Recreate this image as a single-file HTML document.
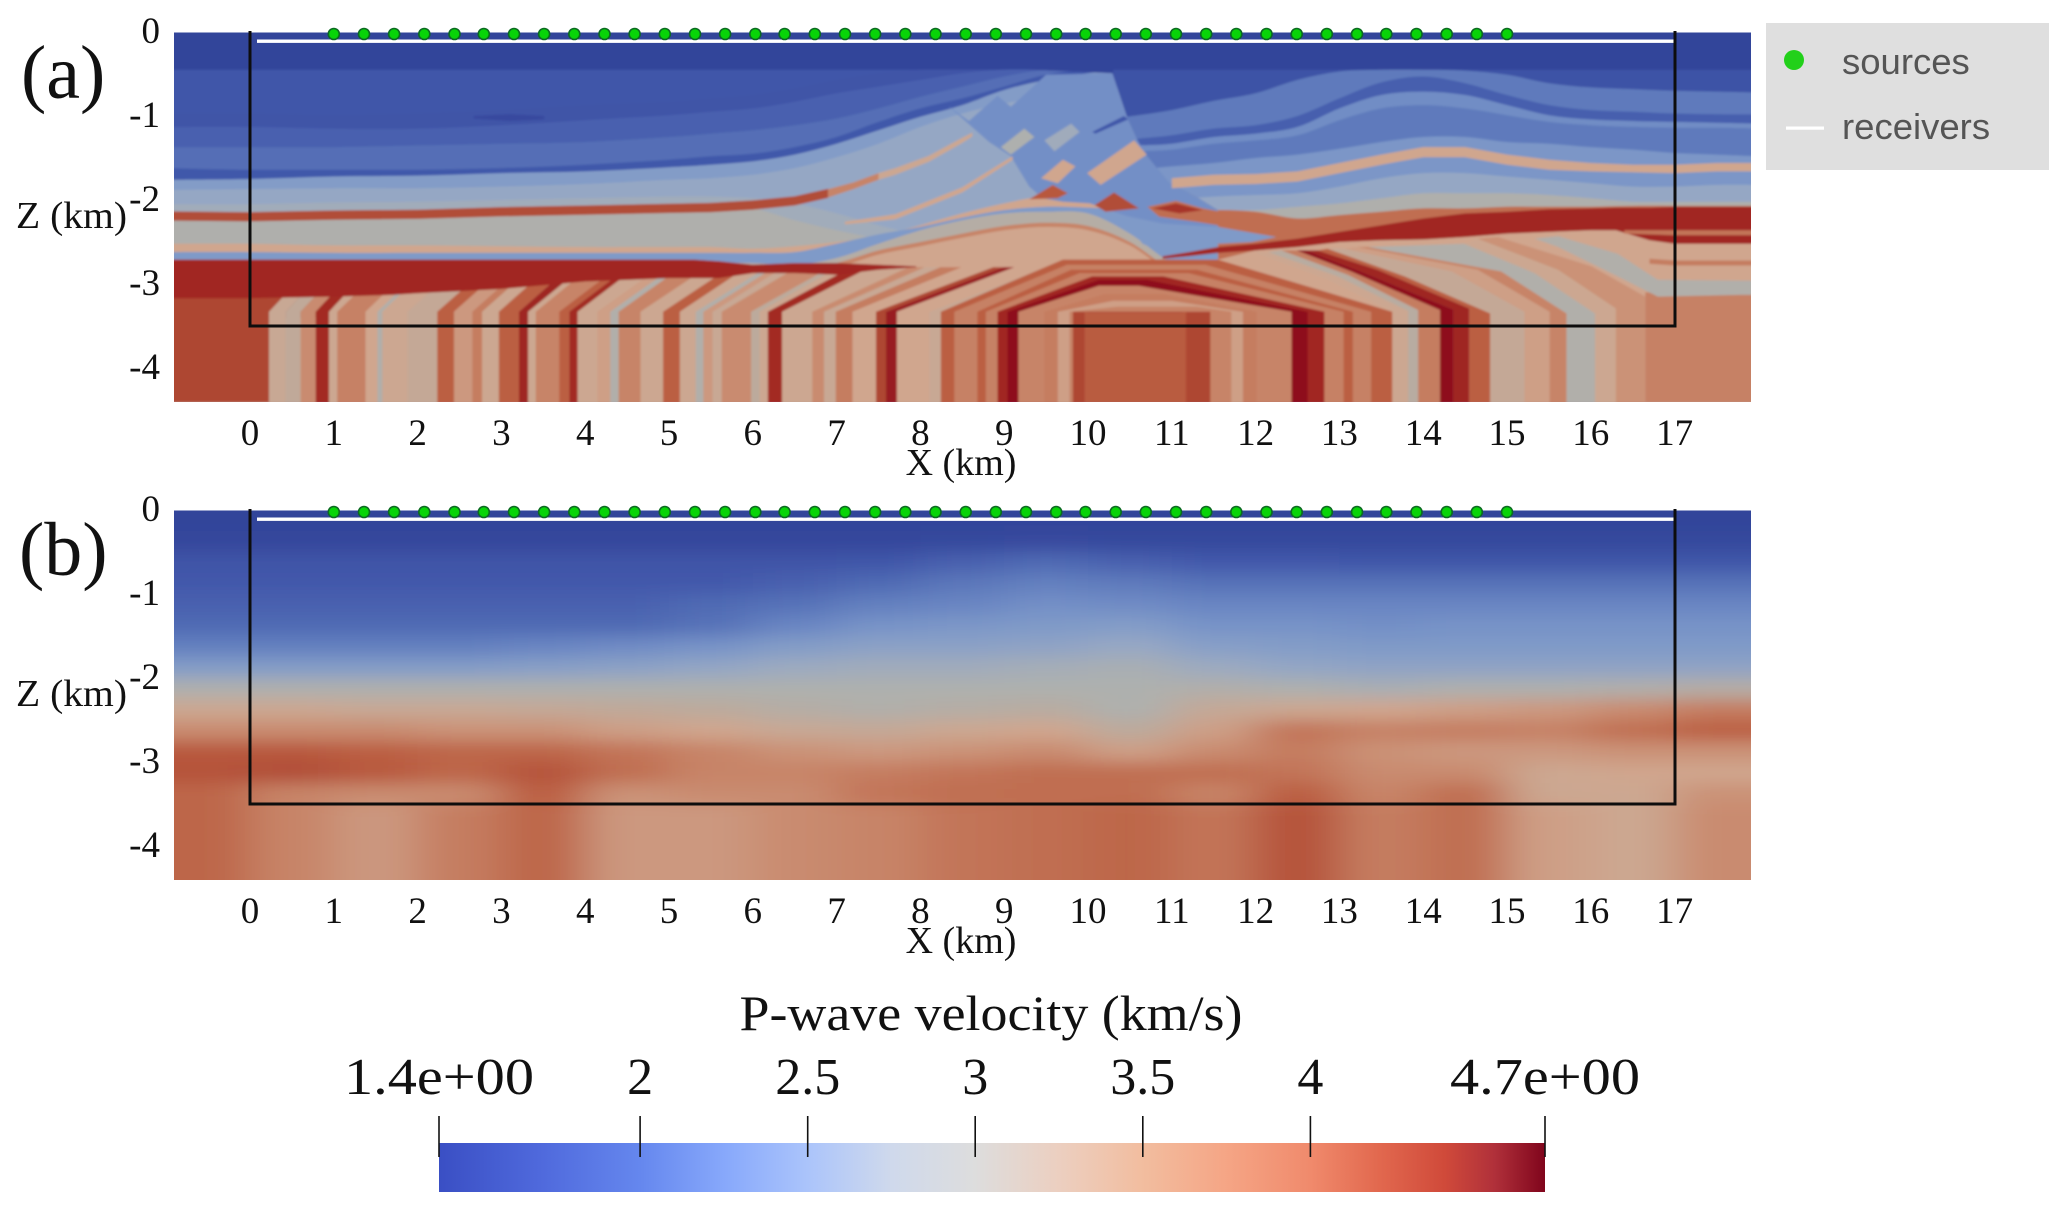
<!DOCTYPE html>
<html lang="en">
<head>
<meta charset="utf-8">
<title>P-wave velocity models</title>
<style>
html,body{margin:0;padding:0;background:#fff;}
svg{display:block;}
text{font-family:"Liberation Serif",serif;fill:#111;}
.sans{font-family:"Liberation Sans",sans-serif;fill:#555;}
</style>
</head>
<body>
<svg id="figure" xmlns="http://www.w3.org/2000/svg" width="2067" height="1210" viewBox="0 0 2067 1210">
  <defs>
    <clipPath id="clip-a"><rect x="174" y="32.5" width="1577" height="369.5"/></clipPath>
    <clipPath id="clip-b"><rect x="174" y="510.5" width="1577" height="369.5"/></clipPath>
    <clipPath id="clip-left"><polygon id="left-clip-shape" points="0,0"/></clipPath>
    <filter id="soft" x="-2%" y="-2%" width="104%" height="104%"><feGaussianBlur stdDeviation="1"/></filter>
    <filter id="smooth" filterUnits="userSpaceOnUse" x="-200" y="300" width="2500" height="800"><feGaussianBlur stdDeviation="24 8"/></filter>
    <linearGradient id="colorbar-gradient" x1="0" x2="1" y1="0" y2="0"></linearGradient>
  </defs>
  <g id="panel-a"></g>
  <g id="panel-b"></g>
  <text x="21" y="98" font-size="76">(a)</text>
  <text x="19" y="575" font-size="76">(b)</text>
  <g>
    <rect x="1766" y="23" width="283" height="147" fill="#dfdfdf"/>
    <circle cx="1794" cy="60" r="10" fill="#22d01a"/>
    <text class="sans" x="1842" y="74" font-size="36.5">sources</text>
    <rect x="1786" y="126.5" width="38" height="3.2" fill="#fff"/>
    <text class="sans" x="1842" y="139" font-size="36.5">receivers</text>
  </g>
  <g id="colorbar">
    <text x="991" y="1030" font-size="50" text-anchor="middle" textLength="503" lengthAdjust="spacingAndGlyphs">P-wave velocity (km/s)</text>
    <rect x="439" y="1143" width="1106" height="49" fill="url(#colorbar-gradient)"/>
  </g>
</svg>
<script>
/* ---------- axes ---------- */
const xTickValues = [0,1,2,3,4,5,6,7,8,9,10,11,12,13,14,15,16,17];
const zTickValues = [0,1,2,3,4];
const zTickLabels = ["0","-1","-2","-3","-4"];
const sourceXKm = [1.00,1.36,1.72,2.08,2.44,2.79,3.15,3.51,3.87,4.23,4.59,4.95,5.31,5.67,6.03,6.38,6.74,7.10,7.46,7.82,8.18,8.54,8.90,9.26,9.62,9.97,10.33,10.69,11.05,11.41,11.77,12.13,12.49,12.85,13.21,13.56,13.92,14.28,14.64,15.00];

/* ---------- colour scales ---------- */
const cmapVelocity = [1.4,1.75,1.9,2.1,2.25,2.45,2.75,3.0,3.2,3.45,3.7,3.95,4.15,4.4,4.7];
const cmapColor = ["#33449a","#3d52a5","#4259ab","#5e7abc","#6f8bc5","#7f9ac8","#97a8c4","#aeb0ae","#bcaa9c","#d0a68e","#c78468","#bb5f42","#ae4733","#a32a24","#8c0a1c"];
const colorbarVelocity = [1.4,1.7,2.0,2.25,2.5,2.75,3.0,3.25,3.5,3.75,4.0,4.2,4.4,4.55,4.7];
const colorbarColor = ["#3a4fc4","#4f69dc","#6587ee","#87a8fb","#abc4fb","#cfd9ec","#dddddd","#eccfc0","#f2bd9f","#f5a585","#f08a6c","#e2694f","#d04a3a","#b0303a","#80051c"];
const colorbarTickValues = [1.4,2,2.5,3,3.5,4,4.7];
const colorbarTickLabels = ["1.4e+00","2","2.5","3","3.5","4","4.7e+00"];

/* ---------- panel (a): left-side horizons, each filled down ---------- */
const leftStationKm = [-1,0,1,2,3,4,5,5.5,6,6.5,7,7.5,8,8.5,9,9.5,10,10.5,11,11.6];
const leftHorizonVelocity = [1.85,1.8,1.95,2.03,1.87,2.5,2.72,2.86,3.02,3.45,2.45,3.1,3.7,3.45];
const leftHorizonDepth = [
 [.45,.45,.45,.45,.45,.45,.45,.45,.45,.45,.45,.45,.45,.45,.45,.45,.45,.45,.45,.45],
 [.97,.97,.99,.97,.93,.87,.83,.79,.75,.67,.57,.49,.45,.45,.45,.45,.45,.45,.45,.45],
 [1.13,1.13,1.15,1.15,1.11,1.05,.99,.95,.91,.83,.73,.65,.57,.49,.45,.45,.45,.45,.45,.45],
 [1.37,1.37,1.37,1.35,1.33,1.31,1.25,1.21,1.17,1.11,1.03,.91,.77,.65,.53,.45,.45,.45,.45,.45],
 [1.62,1.64,1.64,1.64,1.62,1.58,1.52,1.48,1.45,1.37,1.25,1.07,.91,.79,.65,.51,.45,.45,.45,.45],
 [1.76,1.75,1.72,1.71,1.68,1.66,1.61,1.58,1.54,1.46,1.33,1.17,1.01,.87,.69,.57,.49,.45,.45,.45],
 [1.88,1.87,1.86,1.86,1.84,1.81,1.76,1.74,1.70,1.62,1.49,1.33,1.13,.97,.85,.77,.69,.65,.61,.6],
 [2.05,2.05,2.03,2.02,2.0,1.98,1.96,1.96,1.98,2.04,2.16,2.3,2.42,2.52,2.6,2.7,2.75,2.75,2.75,2.75],
 [2.18,2.18,2.16,2.15,2.12,2.10,2.08,2.08,2.10,2.24,2.36,2.46,2.54,2.60,2.67,2.75,2.75,2.75,2.75,2.75],
 [2.52,2.52,2.54,2.54,2.55,2.56,2.56,2.56,2.58,2.55,2.50,2.43,2.30,2.16,2.04,1.95,1.92,1.92,1.92,1.92],
 [2.62,2.62,2.63,2.63,2.63,2.63,2.63,2.63,2.63,2.62,2.52,2.41,2.32,2.21,2.12,2.08,2.09,2.12,2.20,2.3],
 [2.75,2.75,2.75,2.75,2.75,2.75,2.75,2.75,2.75,2.77,2.69,2.52,2.36,2.24,2.16,2.14,2.16,2.40,2.75,3.0],
 [2.85,2.85,2.85,2.85,2.85,2.85,2.85,2.85,2.85,2.82,2.75,2.60,2.50,2.40,2.31,2.27,2.31,2.50,2.83,3.05],
 [2.90,2.90,2.90,2.90,2.90,2.90,2.90,2.90,2.90,2.85,2.80,2.65,2.55,2.45,2.36,2.32,2.36,2.54,2.87,3.1]
];
const leftClipX = [-1,10.29,10.47,10.59,10.69,10.97,11.29,11.55,11.55,-1];
const leftClipDepth = [0,.49,1.03,1.29,1.46,1.80,1.96,2.12,4.5,4.5];

/* ---------- panel (a): right-side horizons, each filled down ---------- */
const rightStationKm = [10.3,10.6,11,11.5,12,12.5,13,13.5,14,14.5,15,15.5,16,16.5,17,17.5,18];
const rightHorizonVelocity = [1.78,2.1,1.93,2.28,2.1,2.4,2.72,3.02,3.85,3.45];
const rightHorizonDepth = [
 [.45,.45,.45,.45,.45,.45,.45,.45,.45,.45,.45,.45,.45,.45,.45,.45,.45],
 [1.03,.99,.93,.82,.73,.57,.47,.45,.45,.46,.51,.61,.66,.68,.70,.71,.72],
 [1.29,1.27,1.23,1.15,1.11,1.0,.79,.60,.53,.61,.75,.87,.93,.95,.97,.98,.98],
 [1.37,1.35,1.33,1.25,1.21,1.13,.91,.75,.71,.75,.87,.99,1.04,1.06,1.07,1.08,1.09],
 [1.44,1.42,1.40,1.33,1.29,1.23,1.05,.91,.87,.91,.99,1.07,1.11,1.13,1.14,1.14,1.15],
 [1.68,1.64,1.60,1.56,1.50,1.46,1.39,1.31,1.25,1.25,1.31,1.33,1.37,1.40,1.44,1.46,1.48],
 [2.12,2.08,2.0,1.96,1.94,1.92,1.84,1.74,1.68,1.68,1.72,1.76,1.80,1.84,1.84,1.82,1.82],
 [2.2,2.16,2.12,2.12,2.12,2.08,2.04,1.98,1.92,1.92,1.92,1.94,1.98,2.02,2.02,2.02,2.02],
 [2.28,2.24,2.16,2.12,2.14,2.22,2.18,2.14,2.10,2.10,2.08,2.08,2.08,2.07,2.07,2.07,2.07],
 [2.9,2.9,2.8,2.72,2.6,2.5,2.45,2.38,2.3,2.25,2.22,2.2,2.2,2.2,2.2,2.2,2.2]
];

/* ---------- panel (a): fault blocks and closed shapes ---------- */
const blockVelocity = [2.3,2.45,3.45,3.45,4.0,4.1,3.85,4.3,3.0,2.85,1.85,4.15,3.72];
const blockX = [
 [8.33,8.58,8.92,9.08,9.5,10.29,10.47,10.59,10.69,10.97,11.29,11.55,11.55,10.89,10.49,10.02,9.7,9.46,9.3,9.08,8.82],
 [10.41,10.89,11.55,12.25,11.95,11.55,10.91,10.65],
 [10.55,10.70,10.15,9.99],
 [9.70,9.85,9.64,9.44],
 [9.58,9.76,9.64,9.30],
 [10.31,10.61,10.21,10.08],
 [10.71,11.05,11.37,11.65,12.08,12.08,11.55,11.29,10.85],
 [10.77,11.05,11.37,11.09],
 [9.24,9.36,9.08,8.96],
 [9.48,9.80,9.90,9.60],
 [10.05,10.43,10.48,10.09],
 [-1,1,1,.3,.3,-1],
 [16.65,18,18,16.65]
];
const blockDepth = [
 [.88,1.06,.76,.89,.51,.49,1.03,1.29,1.46,1.80,1.96,2.12,2.36,2.36,2.2,2.04,2.02,1.98,1.84,1.48,1.31],
 [2.18,2.28,2.32,2.44,2.50,2.52,2.63,2.52],
 [1.29,1.46,1.82,1.68],
 [1.52,1.60,1.80,1.74],
 [1.82,1.92,1.98,1.99],
 [1.91,2.10,2.14,2.06],
 [2.08,2.01,2.10,2.15,2.22,2.32,2.30,2.26,2.20],
 [2.10,2.04,2.12,2.16],
 [1.15,1.25,1.46,1.37],
 [1.29,1.09,1.19,1.42],
 [1.19,1.0,1.04,1.21],
 [3.1,3.1,3.4,3.4,4.41,4.41],
 [3.1,3.1,4.41,4.41]
];

/* ---------- panel (a): folded vertical strata, left limb ---------- */
const foldEdgeKm = [0.227,0.425,0.605,0.784,0.943,1.042,1.38,1.52,1.58,1.88,2.235,2.434,2.653,2.77,2.97,3.21,3.32,3.41,3.69,3.81,3.91,4.145,4.30,4.40,4.66,4.93,5.13,5.32,5.41,5.52,5.63,5.98,6.08,6.18,6.35,6.71,6.85,6.99,7.19,7.47,7.59,7.72,8.11,8.245];
const foldRunKm = [.5,.5,.5,.5,.5,.55,.55,.55,.55,.6,.6,.6,.6,.6,.6,.6,.65,.65,.7,.7,.7,.75,.75,.75,.8,.8,.8,.85,.85,.85,.9,.95,.95,1.0,1.05,1.15,1.2,1.25,1.3,1.4,1.4,1.4,1.4,1.4];
const foldVelocity = [3.35,3.25,3.65,4.4,3.4,3.72,3.45,3.05,3.4,3.3,3.95,3.55,3.75,3.4,3.95,4.45,3.4,3.7,3.95,4.4,3.4,3.5,3.05,3.7,3.4,3.95,3.4,3.05,3.55,3.35,3.65,3.2,3.4,4.4,3.4,3.65,3.35,3.75,3.45,4.15,4.55,3.45,3.35];
const foldKneeDepth = [3.33];
const foldCrestDepth = [2.8];

/* ---------- panel (a): folded strata, right limb ---------- */
const fanEdgeKm = [13.63,13.82,13.94,14.2,14.36,14.55,14.8,15.21,15.51,15.71,16.05,16.30,16.65];
const fanKneeDepth = [3.33,3.32,3.31,3.31,3.30,3.29,3.35,3.33,3.33,3.35,3.35,3.29,3.15];
const fanMidKm = [12.86,12.98,13.1,13.14,13.26,13.46,13.78,14.34,14.65,14.93,15.33,15.61,16.01];
const fanMidDepth = [2.95,2.91,2.89,2.85,2.85,2.83,2.91,2.85,2.83,2.85,2.87,2.83,2.79];
const fanCrestKm = [12.0,12.15,12.31,12.49,12.61,12.74,12.86,13.06,13.22,13.34,14.49,14.65,14.89];
const fanCrestDepth = [2.63,2.62,2.6,2.6,2.6,2.6,2.58,2.58,2.56,2.56,2.52,2.46,2.44];
const fanVelocity = [3.4,3.15,3.75,4.68,4.45,3.95,3.3,3.5,3.7,3.05,3.4,3.6];

/* ---------- panel (a): anticline arches, outer to inner ---------- */
const archVelocity = [3.95,3.72,3.95,3.72,4.42,4.68,3.7,3.75,3.5,3.7,4.15,3.98];
const archLeftKm = [8.245,8.405,8.68,8.78,8.92,9.04,9.17,9.48,9.64,9.78,9.82,9.96];
const archRightKm = [13.63,13.38,13.16,13.05,12.82,12.62,12.43,12.01,11.85,11.71,11.46,11.17];
const archCrestLeftKm = [9.7,9.75,9.8,9.9,10.05,10.13,10.13,10.2,10.3,10.35,9.95,10.0];
const archCrestRightKm = [11.55,11.4,11.3,11.2,10.9,10.7,10.6,10.9,11.0,11.3,11.3,11.1];
const archCrestDepth = [2.71,2.77,2.83,2.87,2.91,2.95,3.02,3.12,3.2,3.27,3.33,3.34];
const archKneeDepth = [3.33];

/* ---------- panel (a): thin beds and thick layers ---------- */
const bandVelocity = [3.45,1.55,4.1,3.7,3.4,3.45,3.05,4.42,4.42,3.8,3.75];
const bandX = [
 [11,11.5,12,12.5,13,13.5,14,14.5,15,15.5,16,16.5,17,17.5,18],
 [2.67,3.1,3.51],
 [-1,0,1,2,3,4,5,5.5,6,6.5,6.9],
 [6.9,7.2,7.5],
 [7.5,7.7,8.1,8.5,8.62],
 [7.1,7.7,8.5,9.1],
 [15.33,15.61,16.32,16.8,17.78,18],
 [-1,0,1,1.7,2,3,4,5,5.3,5.6,6,6.5,7,7.5,7.95],
 [10.89,11.2,11.55,12,12.5,13,13.5,14,14.5,15,15.5,16,16.3,16.7,17,18],
 [16.4,17,18],
 [16.7,17,18]
];
const bandTop = [
 [1.74,1.70,1.69,1.66,1.56,1.46,1.37,1.37,1.46,1.52,1.56,1.58,1.58,1.56,1.56],
 [1.0,.98,1.0],
 [2.135,2.145,2.125,2.115,2.085,2.065,2.045,2.035,2.005,1.955,1.865],
 [1.87,1.79,1.68],
 [1.68,1.62,1.475,1.26,1.2],
 [2.26,2.17,1.85,1.48],
 [2.46,2.43,2.64,2.95,2.96,2.96],
 [2.71,2.71,2.71,2.71,2.71,2.71,2.71,2.71,2.71,2.73,2.77,2.75,2.75,2.77,2.79],
 [2.67,2.62,2.56,2.52,2.46,2.38,2.30,2.22,2.16,2.14,2.11,2.10,2.09,2.09,2.08,2.08],
 [2.36,2.36,2.36],
 [2.70,2.72,2.72]
];
const bandBottom = [
 [1.86,1.82,1.81,1.78,1.68,1.58,1.49,1.49,1.58,1.64,1.66,1.67,1.68,1.66,1.66],
 [1.03,1.06,1.04],
 [2.245,2.255,2.235,2.225,2.195,2.175,2.155,2.145,2.115,2.065,1.975],
 [1.97,1.87,1.76],
 [1.76,1.70,1.545,1.32,1.24],
 [2.29,2.23,1.91,1.52],
 [2.46,2.56,2.91,3.15,3.13,3.13],
 [3.17,3.17,3.15,3.13,3.11,3.06,2.97,2.93,2.93,2.93,2.87,2.87,2.89,2.83,2.80],
 [2.70,2.67,2.63,2.60,2.56,2.50,2.48,2.47,2.44,2.40,2.38,2.36,2.36,2.48,2.52,2.52],
 [2.40,2.42,2.42],
 [2.76,2.78,2.78]
];

/* ---------- panel (b): smooth velocity grid, 1 km x 0.25 km cells ---------- */
const gridColumnKm = [-.5,.5,1.5,2.5,3.5,4.5,5.5,6.5,7.5,8.5,9.5,10.5,11.5,12.5,13.5,14.5,15.5,16.5,17.5];
const gridRowDepth = [.125,.375,.625,.875,1.125,1.375,1.625,1.875,2.125,2.375,2.625,2.875,3.125,3.375,3.625,3.875,4.125,4.375];
const gridVelocity = [
 [1.4,1.4,1.4,1.4,1.4,1.4,1.4,1.4,1.4,1.4,1.4,1.4,1.4,1.4,1.4,1.4,1.4,1.4,1.4],
 [1.45,1.45,1.45,1.45,1.45,1.45,1.45,1.45,1.45,1.5,1.55,1.5,1.5,1.5,1.5,1.5,1.5,1.5,1.5],
 [1.8,1.8,1.8,1.8,1.8,1.8,1.8,1.8,1.85,1.95,2.0,1.95,1.9,1.9,1.85,1.85,1.85,1.85,1.85],
 [1.9,1.9,1.9,1.9,1.9,1.9,1.9,1.95,2.0,2.08,2.15,2.1,2.05,2.05,2.05,2.05,2.05,2.05,2.05],
 [1.95,1.95,1.95,1.95,1.95,1.95,2.0,2.05,2.15,2.2,2.3,2.25,2.2,2.2,2.2,2.2,2.2,2.2,2.2],
 [2.0,2.0,2.0,2.0,2.0,2.0,2.05,2.2,2.35,2.4,2.45,2.5,2.35,2.35,2.3,2.35,2.35,2.35,2.35],
 [2.15,2.15,2.15,2.15,2.2,2.25,2.35,2.5,2.6,2.6,2.65,2.75,2.55,2.5,2.45,2.45,2.45,2.45,2.45],
 [2.5,2.5,2.5,2.5,2.55,2.6,2.7,2.8,2.85,2.85,2.9,2.95,2.8,2.7,2.65,2.65,2.65,2.65,2.65],
 [3.0,3.0,3.0,3.0,3.0,3.0,3.0,3.0,3.0,3.0,3.0,3.0,3.05,3.0,2.95,3.0,3.0,3.05,3.1],
 [3.4,3.4,3.35,3.35,3.3,3.25,3.2,3.1,3.05,3.1,3.15,3.0,3.3,3.4,3.45,3.5,3.55,3.65,3.75],
 [3.65,3.65,3.65,3.6,3.6,3.5,3.45,3.35,3.3,3.4,3.45,3.2,3.5,3.8,3.72,3.75,3.72,3.85,3.95],
 [4.0,4.0,3.95,3.9,3.9,3.8,3.7,3.6,3.55,3.6,3.65,3.5,3.65,3.75,3.6,3.55,3.55,3.6,3.6],
 [4.05,4.1,4.0,3.9,4.05,3.85,3.7,3.7,3.75,3.8,3.85,3.85,3.85,3.8,3.65,3.65,3.4,3.45,3.45],
 [3.9,3.7,3.65,3.65,3.95,3.6,3.65,3.65,3.8,3.85,3.85,3.85,3.7,3.95,3.7,3.85,3.4,3.4,3.6],
 [3.9,3.7,3.55,3.75,3.9,3.55,3.55,3.65,3.7,3.8,3.85,3.9,3.8,4.05,3.75,3.85,3.5,3.4,3.65],
 [3.9,3.7,3.55,3.75,3.9,3.55,3.55,3.65,3.7,3.8,3.85,3.9,3.8,4.05,3.75,3.85,3.5,3.4,3.65],
 [3.9,3.7,3.55,3.75,3.9,3.55,3.55,3.65,3.7,3.8,3.85,3.9,3.8,4.05,3.75,3.85,3.5,3.4,3.65],
 [3.9,3.7,3.55,3.75,3.9,3.55,3.55,3.65,3.7,3.8,3.85,3.9,3.8,4.05,3.75,3.85,3.5,3.4,3.65]
];

/* ---------- scales ---------- */
const NS = "http://www.w3.org/2000/svg";
const BOTTOM_KM = 4.42;
function xScale(km){ return 250 + 83.8 * km; }
function yScale(depth, offset){ return 32 + 84 * depth + offset; }
function colorbarScale(v){ return 439 + 335.15 * (v - 1.4); }
function hexToRgb(h){ return [parseInt(h.slice(1,3),16),parseInt(h.slice(3,5),16),parseInt(h.slice(5,7),16)]; }
function velocityColor(v){
  const vs = cmapVelocity;
  if (v <= vs[0]) return cmapColor[0];
  for (let i = 1; i < vs.length; i++) {
    if (v <= vs[i]) {
      const t = (v - vs[i-1]) / (vs[i] - vs[i-1]);
      const a = hexToRgb(cmapColor[i-1]), b = hexToRgb(cmapColor[i]);
      return "rgb(" + a.map((c,k) => Math.round(c + (b[k]-c)*t)).join(",") + ")";
    }
  }
  return cmapColor[cmapColor.length-1];
}
function svgEl(tag, parent, attrs){
  const el = document.createElementNS(NS, tag);
  for (const k in attrs) el.setAttribute(k, attrs[k]);
  parent.appendChild(el);
  return el;
}
function ringPoints(xs, ds){
  return xs.map((x,i) => xScale(x).toFixed(1) + "," + yScale(ds[i],0).toFixed(1)).join(" ");
}
function curvePath(xs, ds){
  const p = xs.map((x,i) => [xScale(x), yScale(ds[i],0)]);
  let d = "M" + p[0][0].toFixed(1) + " " + p[0][1].toFixed(1);
  for (let i = 0; i < p.length - 1; i++) {
    const p0 = p[Math.max(i-1,0)], p1 = p[i], p2 = p[i+1], p3 = p[Math.min(i+2,p.length-1)];
    const c1x = p1[0] + (p2[0]-p0[0])/6, c1y = p1[1] + (p2[1]-p0[1])/6;
    const c2x = p2[0] - (p3[0]-p1[0])/6, c2y = p2[1] - (p3[1]-p1[1])/6;
    d += "C" + c1x.toFixed(1) + " " + c1y.toFixed(1) + " " + c2x.toFixed(1) + " " + c2y.toFixed(1) + " " + p2[0].toFixed(1) + " " + p2[1].toFixed(1);
  }
  return d;
}

/* ---------- draw panel (a) field ---------- */
document.getElementById("left-clip-shape").setAttribute("points", ringPoints(leftClipX, leftClipDepth));
const panelA = document.getElementById("panel-a");
const fieldA = svgEl("g", panelA, {"clip-path":"url(#clip-a)"});


const softA = svgEl("g", fieldA, {filter:"url(#soft)"});

const baseRect = svgEl("rect", softA, {x:160, y:20, width:1610, height:400, fill:velocityColor(1.4)});



rightHorizonDepth.forEach((ds, i) => {
  const bot = yScale(BOTTOM_KM,0);
  const d = curvePath(rightStationKm, ds) + "L" + xScale(18) + " " + bot + "L" + xScale(10.3) + " " + bot + "Z";
  const el = svgEl("path", softA, {d:d, fill:velocityColor(rightHorizonVelocity[i])});
  
  
});

const leftGroup = svgEl("g", softA, {"clip-path":"url(#clip-left)"});
leftHorizonDepth.forEach((ds, i) => {
  const bot = yScale(BOTTOM_KM,0);
  const last = leftStationKm[leftStationKm.length-1];
  const d = curvePath(leftStationKm, ds) + "L" + xScale(last) + " " + bot + "L" + xScale(-1) + " " + bot + "Z";
  const el = svgEl("path", leftGroup, {d:d, fill:velocityColor(leftHorizonVelocity[i])});
  
  
});

blockVelocity.forEach((v, i) => {
  const ds = blockDepth[i];
  const el = svgEl("polygon", softA, {points:ringPoints(blockX[i], ds), fill:velocityColor(v)});
  
  
});

foldVelocity.forEach((v, i) => {
  const k = foldKneeDepth[0], c = foldCrestDepth[0];
  const x0 = foldEdgeKm[i], x1 = foldEdgeKm[i+1];
  const xs = [x0, x1, x1, x1 + foldRunKm[i+1], x0 + foldRunKm[i], x0];
  const ds = [BOTTOM_KM, BOTTOM_KM, k, c, c, k];
  const el = svgEl("polygon", softA, {points:ringPoints(xs, ds), fill:velocityColor(v)});
  
  
});

fanVelocity.forEach((v, i) => {
  const xs = [fanEdgeKm[i], fanEdgeKm[i+1], fanEdgeKm[i+1], fanMidKm[i+1], fanCrestKm[i+1], fanCrestKm[i], fanMidKm[i], fanEdgeKm[i]];
  const ds = [BOTTOM_KM, BOTTOM_KM, fanKneeDepth[i+1], fanMidDepth[i+1], fanCrestDepth[i+1], fanCrestDepth[i], fanMidDepth[i], fanKneeDepth[i]];
  const el = svgEl("polygon", softA, {points:ringPoints(xs, ds), fill:velocityColor(v)});
  
  
});

archVelocity.forEach((v, i) => {
  const k = archKneeDepth[0], c = archCrestDepth[i];
  const xs = [archLeftKm[i], archLeftKm[i], archCrestLeftKm[i], archCrestRightKm[i], archRightKm[i], archRightKm[i]];
  const ds = [BOTTOM_KM, k, c, c, k, BOTTOM_KM];
  const el = svgEl("polygon", softA, {points:ringPoints(xs, ds), fill:velocityColor(v)});
  
  
});

bandVelocity.forEach((v, i) => {
  const xs = bandX[i];
  const ringX = xs.concat(xs.slice().reverse());
  const ringD = bandTop[i].concat(bandBottom[i].slice().reverse());
  const el = svgEl("polygon", softA, {points:ringPoints(ringX, ringD), fill:velocityColor(v)});
  
  
});

/* ---------- draw panel (b) field ---------- */
const panelB = document.getElementById("panel-b");
const fieldB = svgEl("g", panelB, {"clip-path":"url(#clip-b)"});


const softB = svgEl("g", fieldB, {filter:"url(#smooth)"});
gridVelocity.forEach((row, r) => {
  row.forEach((v, c) => {
    const cx = gridColumnKm[c], cz = gridRowDepth[r];
    const left = c === 0 ? cx - 3 : cx - 0.5;
    const right = c === row.length - 1 ? cx + 3 : cx + 0.5;
    const top = r === 0 ? cz - 1 : cz - 0.125;
    const bottom = r === gridVelocity.length - 1 ? cz + 1 : cz + 0.125;
    const cell = svgEl("rect", softB, {
      x:xScale(left).toFixed(1), y:yScale(top,478).toFixed(1),
      width:(xScale(right)-xScale(left)+0.6).toFixed(1),
      height:(yScale(bottom,478)-yScale(top,478)+0.6).toFixed(1),
      fill:velocityColor(v)
    });
    
    
  });
});

/* ---------- overlays + axes for both panels ---------- */
[[panelA,0],[panelB,478]].forEach(([panel, off]) => {
  const recv = svgEl("rect", panel, {x:257, y:39.5+off, width:1418, height:3.4, fill:"#fff"});
  
  

  const frame = svgEl("polyline", panel, {points:"250,"+(31+off)+" 250,"+(326+off)+" 1675,"+(326+off)+" 1675,"+(31+off), fill:"none", stroke:"#0d0d0d", "stroke-width":3});
  
  

  sourceXKm.forEach(sx => {
    const s = svgEl("circle", panel, {cx:xScale(sx).toFixed(1), cy:34+off, r:5.5, fill:"#08d408", stroke:"#0c6a22", "stroke-width":1.6});
    
    
  });

  xTickValues.forEach(tick => {
    const t = svgEl("text", panel, {x:xScale(tick).toFixed(1), y:445+off, "font-size":37, "text-anchor":"middle"});
    t.textContent = String(tick);
    
    
  });
  zTickValues.forEach((tick, i) => {
    const t = svgEl("text", panel, {x:160, y:(yScale(tick,off)+11).toFixed(1), "font-size":37, "text-anchor":"end"});
    t.textContent = zTickLabels[i];
    
    
  });
  const xt = svgEl("text", panel, {x:961, y:475+off, "font-size":38, "text-anchor":"middle"});
  xt.textContent = "X (km)";
  
  
  const zt = svgEl("text", panel, {x:16, y:228+off, "font-size":38, textLength:111, lengthAdjust:"spacingAndGlyphs"});
  zt.textContent = "Z (km)";
  
  
});

/* ---------- colour bar ---------- */
const grad = document.getElementById("colorbar-gradient");
colorbarVelocity.forEach((v, i) => {
  const stop = svgEl("stop", grad, {offset:((v-1.4)/3.3).toFixed(4), "stop-color":colorbarColor[i]});
});
const cbar = document.getElementById("colorbar");
colorbarTickValues.forEach((v, i) => {
  const px = colorbarScale(v).toFixed(1);
  const line = svgEl("line", cbar, {x1:px, x2:px, y1:1116, y2:1157, stroke:"#111", "stroke-width":1.6});
  
  
  const label = svgEl("text", cbar, {x:px, y:1094, "font-size":52, "text-anchor":"middle"});
  label.textContent = colorbarTickLabels[i];
  if (colorbarTickLabels[i].length > 3) {
    label.setAttribute("textLength", 190);
    label.setAttribute("lengthAdjust", "spacingAndGlyphs");
  }
  
  
});
</script>
</body>
</html>
